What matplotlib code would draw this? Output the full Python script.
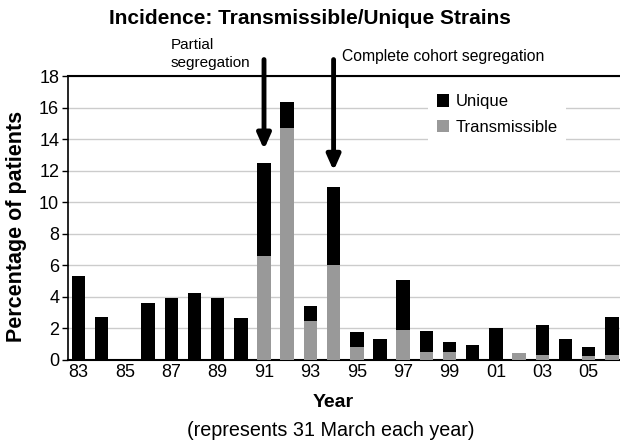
import matplotlib
matplotlib.use("Agg")
import matplotlib.pyplot as plt
import numpy as np

plt.rcParams['font.family'] = ['Liberation Sans', 'DejaVu Sans']

years = ["83", "84", "85", "86", "87", "88", "89", "90", "91", "92", "93", "94",
         "95", "96", "97", "98", "99", "00", "01", "02", "03", "04", "05", "06"]
transmissible = [0, 0, 0, 0, 0, 0, 0, 0, 6.6, 14.7, 2.5, 6.0,
                 0.8, 0, 1.9, 0.5, 0.5, 0, 0, 0.45, 0.3, 0, 0.25, 0.3]
total = [5.3, 2.7, 0, 3.6, 3.95, 4.25, 3.95, 2.65, 12.5, 16.35, 3.45, 10.95,
         1.75, 1.35, 5.1, 1.85, 1.15, 0.95, 2.0, 0.45, 2.2, 1.3, 0.8, 2.7]
unique = [t - g for t, g in zip(total, transmissible)]
tick_labels = ["83", "85", "87", "89", "91", "93", "95", "97", "99", "01", "03", "05"]

fig = plt.figure(figsize=(6.2, 4.4), dpi=100)
ax = fig.add_axes([0.109, 0.182, 0.891, 0.645])

x = np.arange(len(years))
ax.bar(x, transmissible, width=0.58, color='#999999', label='Transmissible', zorder=3)
ax.bar(x, unique, bottom=transmissible, width=0.58, color='#000000', label='Unique', zorder=3)

ax.set_xlim(-0.47, 23.35)
ax.set_ylim(0, 18)
ax.set_yticks(np.arange(0, 19, 2))
ax.set_xticks(np.arange(0, 24, 2))
ax.set_xticklabels(tick_labels)
ax.tick_params(axis='x', length=0, labelsize=13, pad=3)
ax.tick_params(axis='y', length=4, width=1, labelsize=13, pad=2, direction='out')
ax.grid(axis='y', color='#cccccc', linewidth=1, zorder=0)
ax.set_axisbelow(True)

ax.spines['right'].set_visible(False)
ax.spines['top'].set_linewidth(1.5)
ax.spines['left'].set_linewidth(1.2)
ax.spines['bottom'].set_linewidth(1.5)

fig.text(17 / 620, 1 - 226 / 440, 'Percentage of patients', rotation=90, ha='center', va='center',
         fontsize=15.5, fontweight='bold')
fig.text(333 / 620, 1 - 402 / 440, 'Year', ha='center', va='center', fontsize=14, fontweight='bold')
fig.text(331 / 620, 1 - 430 / 440, '(represents 31 March each year)', ha='center', va='center',
         fontsize=14.2)
fig.text(0.5, 0.958, 'Incidence: Transmissible/Unique Strains', ha='center', va='center',
         fontsize=15, fontweight='bold')

# arrows
arrow_style = dict(arrowstyle='-|>,head_length=0.9,head_width=0.4', color='black', lw=3.5,
                   shrinkA=0, shrinkB=0)
ax.annotate('', xy=(8, 13.35), xytext=(8, 19.05), arrowprops=arrow_style, annotation_clip=False)
ax.annotate('', xy=(11, 12.0), xytext=(11, 19.05), arrowprops=arrow_style, annotation_clip=False)
ax.text(3.98, 19.4, 'Partial\nsegregation', ha='left', va='center', fontsize=11, linespacing=1.3)
ax.text(11.35, 19.25, 'Complete cohort segregation', ha='left', va='center', fontsize=11.3)

handles, labels = ax.get_legend_handles_labels()
leg = ax.legend(handles[::-1], labels[::-1], loc='upper left', bbox_to_anchor=(0.653, 0.965),
                frameon=True, facecolor='white', edgecolor='none', framealpha=1, fancybox=False,
                fontsize=12, handlelength=0.75, handleheight=0.75, handletextpad=0.4,
                labelspacing=0.62, borderpad=0.5, borderaxespad=0)

fig.savefig('out.png', dpi=100)
